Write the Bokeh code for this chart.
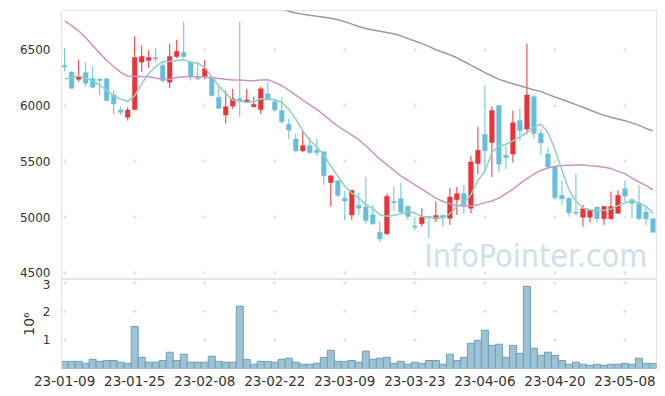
import math
import pandas as pd
from bokeh.plotting import figure
from bokeh.models import ColumnDataSource, Range1d, FixedTicker, Label, CustomJSTickFormatter
from bokeh.layouts import column
from bokeh.embed import file_html
from bokeh.resources import INLINE

# ---- data -------------------------------------------------------------
holidays = ["2023-01-23", "2023-01-24", "2023-03-01", "2023-05-01", "2023-05-05"]
dates = [d for d in pd.bdate_range("2023-01-09", "2023-05-12")
         if d.strftime("%Y-%m-%d") not in holidays]

opens = [6360, 6300, 6235, 6295, 6240, 6235, 6240, 6095, 5960, 5895,
         5965, 6390, 6405, 6430, 6360, 6210, 6440, 6475, 6390, 6250,
         6260, 6255, 6075, 5915, 5995, 6060, 6035, 5990, 5965, 6105,
         6035, 5955, 5830, 5700, 5595, 5640, 5600, 5585, 5310, 5325,
         5170, 5020, 5105, 5090, 5020, 4865, 4850, 5140, 5165, 5095,
         4920, 4940, 5005, 4985, 5015, 4990, 5155, 5210, 5080, 5480,
         5740, 5670, 6000, 5555, 5565, 5865, 5790, 6080, 5750, 5565,
         5450, 5195, 5170, 5045, 5000, 5000, 5090, 4985, 4985, 5035,
         5255, 5155, 5120, 5045, 4985]
highs = [6515, 6305, 6410, 6385, 6350, 6250, 6240, 6135, 5990, 5985,
         6620, 6540, 6495, 6515, 6390, 6555, 6590, 6750, 6400, 6390,
         6410, 6260, 6190, 6135, 6150, 6750, 6150, 6080, 6170, 6210,
         6060, 6075, 5880, 5750, 5780, 5715, 5700, 5590, 5370, 5330,
         5235, 5240, 5215, 5360, 5110, 4960, 5210, 5270, 5305, 5105,
         4990, 5080, 5010, 5140, 5020, 5260, 5270, 5290, 5550, 5810,
         6180, 5990, 6000, 5640, 5955, 5975, 6555, 6095, 5790, 5625,
         5450, 5325, 5175, 5390, 5110, 5060, 5095, 5100, 5230, 5240,
         5330, 5170, 5285, 5095, 4985]
lows = [6305, 6150, 6215, 6170, 6155, 6090, 6038, 5925, 5915, 5865,
        5965, 6300, 6335, 6390, 6210, 6155, 6425, 6420, 6225, 6230,
        6235, 6080, 5970, 5840, 5970, 5900, 6030, 5985, 5925, 6050,
        5940, 5840, 5700, 5580, 5585, 5565, 5550, 5285, 5095, 5180,
        4975, 4975, 5020, 4940, 4930, 4780, 4840, 5060, 5035, 4975,
        4885, 4915, 4810, 4955, 4915, 4930, 5020, 5030, 5035, 5385,
        5420, 5360, 5400, 5430, 5490, 5690, 5745, 5700, 5555, 5435,
        5155, 5110, 5005, 5015, 4915, 4955, 4955, 4930, 4980, 5030,
        5135, 4990, 4975, 4930, 4865]
closes = [6345, 6155, 6260, 6200, 6165, 6225, 6045, 6015, 5940, 5960,
          6430, 6440, 6430, 6420, 6225, 6440, 6485, 6440, 6260, 6240,
          6330, 6090, 5975, 5990, 6060, 6040, 6050, 6010, 6150, 6050,
          5960, 5855, 5780, 5595, 5640, 5580, 5580, 5370, 5370, 5195,
          5145, 5240, 5080, 4970, 4940, 4805, 5185, 5130, 5045, 5005,
          4910, 5000, 4995, 5015, 4995, 5180, 5210, 5105, 5495, 5600,
          5595, 5955, 5475, 5535, 5845, 5775, 6095, 5750, 5665, 5450,
          5175, 5165, 5040, 5035, 5075, 5060, 4985, 5095, 5095, 5195,
          5190, 5125, 4985, 4985, 4865]
volumes = [250000, 250000, 250000, 180000, 320000, 250000, 280000, 280000, 220000, 180000,
           1470000, 390000, 220000, 220000, 280000, 570000, 280000, 500000, 220000, 220000,
           220000, 430000, 250000, 220000, 220000, 2180000, 320000, 150000, 250000, 250000,
           220000, 320000, 360000, 220000, 150000, 150000, 180000, 390000, 640000, 250000,
           250000, 280000, 220000, 610000, 320000, 360000, 390000, 180000, 250000, 150000,
           220000, 180000, 280000, 280000, 150000, 500000, 280000, 390000, 880000, 990000,
           1340000, 810000, 850000, 390000, 810000, 530000, 2880000, 710000, 460000, 570000,
           460000, 280000, 150000, 220000, 150000, 110000, 150000, 110000, 150000, 150000,
           180000, 150000, 360000, 180000, 180000]
ma5 = [6238, 6253, 6265, 6247, 6223, 6184, 6139, 6088, 6058, 6037,
       6088, 6193, 6289, 6349, 6395, 6398, 6404, 6410, 6389, 6380,
       6343, 6259, 6178, 6109, 6049, 6043, 6028, 6034, 6061, 6064,
       6052, 6028, 5968, 5878, 5773, 5689, 5629, 5557, 5458, 5368,
       5277, 5217, 5172, 5112, 5076, 5022, 5007, 5016, 5028, 5052,
       5037, 5007, 4998, 4992, 4992, 5030, 5097, 5127, 5202, 5328,
       5413, 5578, 5638, 5653, 5683, 5719, 5758, 5809, 5833, 5758,
       5608, 5419, 5247, 5142, 5082, 5067, 5061, 5061, 5073, 5103,
       5127, 5148, 5127, 5097, 5037]
ma20 = [6758, 6716, 6668, 6608, 6539, 6470, 6404, 6350, 6298, 6265,
        6262, 6260, 6258, 6248, 6230, 6235, 6252, 6258, 6258, 6258,
        6256, 6250, 6242, 6236, 6230, 6228, 6224, 6222, 6228, 6232,
        6208, 6178, 6139, 6094, 6049, 6007, 5965, 5917, 5863, 5815,
        5776, 5735, 5695, 5640, 5580, 5520, 5470, 5420, 5370, 5330,
        5290, 5250, 5210, 5170, 5140, 5120, 5105, 5100, 5100, 5110,
        5130, 5145, 5170, 5210, 5250, 5300, 5345, 5385, 5420, 5440,
        5455, 5462, 5465, 5467, 5467, 5460, 5455, 5448, 5435, 5410,
        5390, 5350, 5315, 5285, 5245]
ma60 = [None] * 31 + [
        6870, 6845, 6830, 6818, 6810, 6800, 6792, 6783, 6770,
        6752, 6730, 6708, 6690, 6678, 6667, 6655, 6644, 6625, 6600,
        6578, 6555, 6530, 6500, 6478, 6455, 6428, 6395, 6362, 6330,
        6295, 6265, 6235, 6215, 6195, 6178, 6160, 6140, 6125, 6100,
        6077, 6055, 6032, 6008, 5985, 5960, 5935, 5912, 5895, 5880,
        5863, 5845, 5822, 5795, 5773]

price_ticks = [4500, 5000, 5500, 6000, 6500]
volume_ticks = [1000000, 2000000, 3000000]
date_ticks = list(range(0, len(dates), 10))
date_labels = {i: dates[i].strftime("%y-%m-%d") for i in date_ticks}

# ---- styles -----------------------------------------------------------
UP = "#ec3338"
DOWN = "#66bfd8"
FONT = "DejaVu Sans"
TXT = "#333333"
FRAME = "#e4e4e4"
CROSS = "#dedede"

idx = list(range(len(dates)))
up = [i for i in idx if closes[i] >= opens[i]]
dn = [i for i in idx if closes[i] < opens[i]]

def candle_src(ids):
    return ColumnDataSource(dict(
        x=ids,
        high=[highs[i] for i in ids],
        low=[lows[i] for i in ids],
        top=[max(opens[i], closes[i]) for i in ids],
        bottom=[min(opens[i], closes[i]) for i in ids],
    ))

x_range = Range1d(-0.45, 84.5)

p = figure(width=664, height=279, x_range=x_range, y_range=Range1d(4441, 6852),
           output_backend="svg", toolbar_location=None, x_axis_location=None,
           min_border_left=61, min_border_right=8, min_border_top=10, min_border_bottom=0)
p.xgrid.visible = False
p.ygrid.visible = False
p.outline_line_color = FRAME
p.background_fill_color = "white"
p.border_fill_color = "white"
ax = p.yaxis[0]
ax.ticker = FixedTicker(ticks=price_ticks)
ax.axis_line_color = FRAME
ax.major_tick_line_color = None
ax.minor_tick_line_color = None
ax.major_label_text_font = FONT
ax.major_label_text_font_size = "12px"
ax.major_label_text_color = TXT
ax.major_label_standoff = 5

gx = [t for t in date_ticks for _ in price_ticks]
gy = [y for _ in date_ticks for y in price_ticks]
p.scatter(x=gx, y=gy, marker="cross", size=4, line_color=CROSS, line_width=1)

wm = Label(x=83.2, y=4656, text="InfoPointer.com", text_font="DejaVu Sans Condensed",
           text_font_size="32px", text_color="#d0e0ea", text_align="right",
           text_baseline="middle", level="underlay")
p.add_layout(wm)

for ids, col in ((up, UP), (dn, DOWN)):
    s = candle_src(ids)
    p.segment(x0="x", y0="high", x1="x", y1="low", source=s, line_color=col, line_width=1)
    p.vbar(x="x", width=0.65, top="top", bottom="bottom", source=s,
           fill_color=col, line_color=col, line_width=0.5)

ma60_f = [float("nan") if v is None else v for v in ma60]
p.line(idx, ma60_f, line_color="#9b9b9b", line_width=1.5)
p.line(idx, ma20, line_color="#cc93c9", line_width=1.5)
p.line(idx, ma5, line_color="#8dd1c3", line_width=1.5)

v = figure(width=664, height=110, x_range=x_range, y_range=Range1d(0, 3120000),
           output_backend="svg", toolbar_location=None,
           min_border_left=61, min_border_right=8, min_border_top=0, min_border_bottom=21)
v.xgrid.visible = False
v.ygrid.visible = False
v.outline_line_color = FRAME
xa = v.xaxis[0]
xa.ticker = FixedTicker(ticks=date_ticks)
xa.major_label_overrides = date_labels
xa.axis_line_color = None
xa.major_tick_line_color = None
xa.minor_tick_line_color = None
xa.major_label_text_font = FONT
xa.major_label_text_font_size = "13.5px"
xa.major_label_text_color = TXT
xa.major_label_standoff = 1
ya = v.yaxis[0]
ya.ticker = FixedTicker(ticks=volume_ticks)
ya.formatter = CustomJSTickFormatter(code="return (tick/1e6).toFixed(0);")
ya.axis_line_color = FRAME
ya.major_tick_line_color = None
ya.minor_tick_line_color = None
ya.major_label_text_font = FONT
ya.major_label_text_font_size = "12px"
ya.major_label_text_color = TXT
ya.major_label_standoff = 5
ya.axis_label = "10\u2076"
ya.axis_label_text_font = FONT
ya.axis_label_text_font_style = "normal"
ya.axis_label_text_font_size = "14px"
ya.axis_label_text_color = TXT
ya.axis_label_standoff = 3

vgx = [t for t in date_ticks for _ in volume_ticks]
vgy = [y for _ in date_ticks for y in volume_ticks]
v.scatter(x=vgx, y=vgy, marker="cross", size=4, line_color=CROSS, line_width=1)
v.vbar(x=idx, width=1, top=volumes, bottom=0, fill_color="#9cc2d3",
       line_color="#6f9fb8", line_width=1)

layout = column(p, v, spacing=0)
open("out.html", "w").write(file_html(layout, INLINE))
